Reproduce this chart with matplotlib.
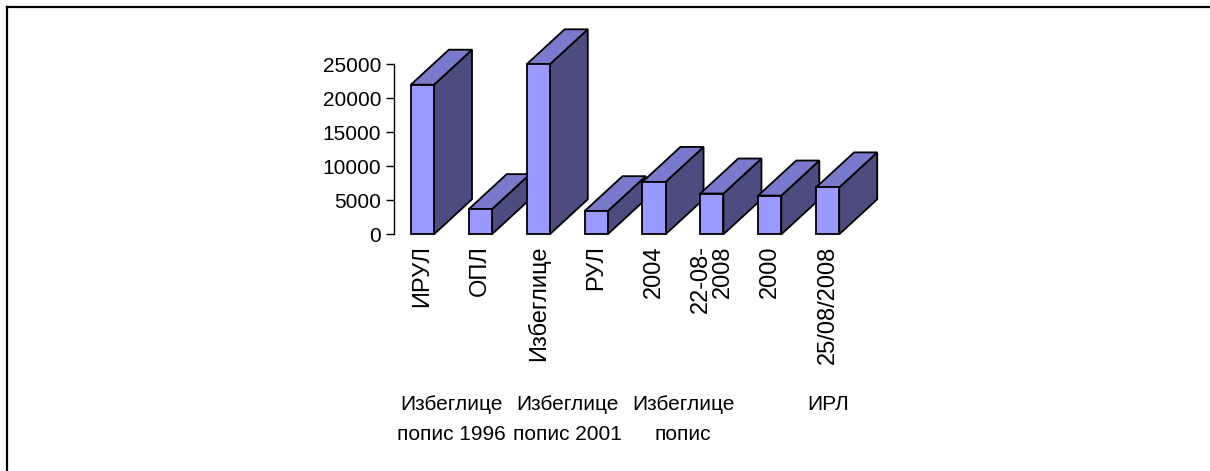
import matplotlib.pyplot as plt
from matplotlib.patches import Polygon
from matplotlib.lines import Line2D

plt.rcParams['font.family'] = ['Liberation Sans', 'DejaVu Sans']

categories = ["ИРУЛ", "ОПЛ", "Избеглице", "РУЛ", "2004", "22-08-\n2008", "2000", "25/08/2008"]
values = [22000, 3700, 25000, 3400, 7700, 6000, 5700, 6900]
group_labels = ["Избеглице\nпопис 1996", "Избеглице\nпопис 2001", "Избеглице\nпопис", "ИРЛ"]
group_spans = [(0, 1), (2, 3), (4, 5), (7, 7)]
y_ticks = [0, 5000, 10000, 15000, 20000, 25000]

front_color = "#9999FF"
top_color = "#7A7ACC"
side_color = "#4C4C80"

W, H = 1210, 471
fig = plt.figure(figsize=(W / 100, H / 100), dpi=100)

# axes placed in pixels: y axis at x=394, zero at y=234, 25000 at y=64
ax_left, ax_right = 393.5, 856.6
ax_bottom, ax_top = 234.3, 64.3
ax = fig.add_axes([ax_left / W, 1 - ax_bottom / H,
                   (ax_right - ax_left) / W, (ax_bottom - ax_top) / H])
ax.set_xlim(0, len(categories))
ax.set_ylim(0, 25000)

px_x = len(categories) / (ax_right - ax_left)
px_y = 25000 / (ax_bottom - ax_top)
dx = 38 * px_x
dy = 35 * px_y
half = 0.2

for i, v in enumerate(values):
    x0 = i + 0.5 - half
    x1 = i + 0.5 + half
    side = Polygon([(x1, 0), (x1 + dx, dy), (x1 + dx, v + dy), (x1, v)],
                   closed=True, facecolor=side_color, edgecolor="black", lw=1.3,
                   clip_on=False, joinstyle="miter")
    top = Polygon([(x0, v), (x1, v), (x1 + dx, v + dy), (x0 + dx, v + dy)],
                  closed=True, facecolor=top_color, edgecolor="black", lw=1.3,
                  clip_on=False, joinstyle="miter")
    front = Polygon([(x0, 0), (x1, 0), (x1, v), (x0, v)],
                    closed=True, facecolor=front_color, edgecolor="black", lw=1.3,
                    clip_on=False, joinstyle="miter")
    ax.add_patch(side)
    ax.add_patch(top)
    ax.add_patch(front)

for s in ["top", "right", "bottom"]:
    ax.spines[s].set_visible(False)
ax.spines["left"].set_linewidth(1.0)
ax.set_yticks(y_ticks)
ax.set_yticklabels([str(t) for t in y_ticks], fontsize=15)
ax.tick_params(axis="y", length=6, width=1.0, pad=3)
ax.set_xticks([])

# rotated category labels
for i, name in enumerate(categories):
    ax.annotate(name, xy=(i + 0.5, 0), xycoords="data",
                xytext=(0, -11), textcoords="offset pixels",
                rotation=90, ha="center", va="top", multialignment="right",
                fontsize=17, linespacing=0.95)

# group labels
for label, (a, b) in zip(group_labels, group_spans):
    xc = (a + b + 1) / 2
    ax.annotate(label, xy=(xc, 0), xycoords="data",
                xytext=(0, -(395 - ax_bottom)), textcoords="offset pixels",
                ha="center", va="top", fontsize=15, linespacing=1.75)

# outer chart frame
fig.add_artist(Line2D([7 / W, 1.0], [1 - 7 / H, 1 - 7 / H], color="black", lw=1.6,
                      transform=fig.transFigure))
fig.add_artist(Line2D([7 / W, 7 / W], [1 - 7 / H, 0.0], color="black", lw=1.6,
                      transform=fig.transFigure))

fig.savefig("out.png", dpi=100)
